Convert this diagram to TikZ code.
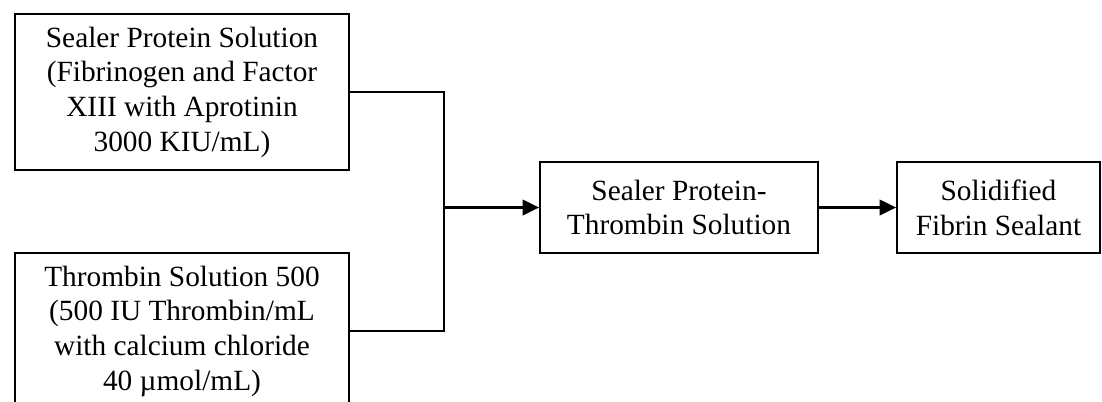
\documentclass[tikz,border=0pt]{standalone}
\usepackage{fontspec}
\setmainfont{Liberation Serif}
\usepackage{tikz}
\usetikzlibrary{arrows.meta,positioning}

\begin{document}
\begin{tikzpicture}[x=0.75pt,y=-0.75pt,>={Triangle[length=12.5pt,width=11.5pt]},
			box/.style={draw,line width=1.2pt,align=center,inner sep=0pt,font=\fontsize{22}{26}\selectfont},
			big box/.style={box,minimum width=250.5pt,minimum height=117pt},
			small box/.style={box,minimum height=68.25pt}]
			\useasboundingbox (0,0) rectangle (1102,401);

			\node[big box] (sealer) at (182,92) {Sealer Protein Solution\\(Fibrinogen and Factor\\XIII with Aprotinin\\3000 KIU/mL)};
			\node[big box] (thrombin) at (182,331) {Thrombin Solution 500\\(500 IU Thrombin/mL\\with calcium chloride\\40 µmol/mL)};
			\node[small box,minimum width=208.5pt] (mix) at (679,207.5) {Sealer Protein-\\Thrombin Solution};
			\node[small box,minimum width=152.25pt] (sealant) at (998.5,207.5) {Solidified\\Fibrin Sealant};
			\coordinate (join) at (444,207.5);

			\draw[line width=1.2pt] (sealer.east) -| (join);
			\draw[line width=1.2pt] (thrombin.east) -| (join);
			\path[->,line width=2.2pt]
			(join) edge (mix)
			(mix) edge (sealant);

		\end{tikzpicture}
\end{document}
